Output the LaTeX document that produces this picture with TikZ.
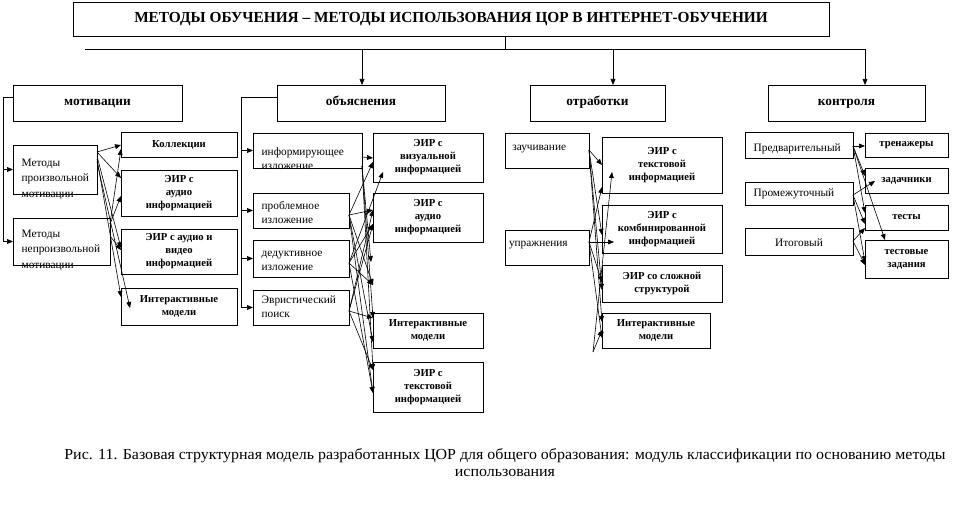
\documentclass[tikz,border=0pt]{standalone}
\usepackage{fontspec}
\setmainfont{Liberation Serif}
\newfontfamily\capfont[FakeStretch=1.04]{Liberation Serif}
\usetikzlibrary{arrows.meta,calc}
\newlength\pxu \setlength\pxu{0.75pt}
\newcommand\sm{\fontsize{8.5}{11.5}\selectfont}
\newcommand\so{\fontsize{8.5}{10.5}\selectfont}
\newcommand\bs{\fontsize{8}{9.8}\selectfont\bfseries}
\newcommand\hd{\fontsize{10}{12}\selectfont\bfseries}
\tikzset{
  box/.style={draw, line width=0.7pt, inner sep=0pt, outer sep=0pt},
  head/.style={box, minimum height=36\pxu, text height=6.5pt, text depth=2pt, font=\hd},
  ln/.style={line width=0.7pt},
  arr/.style={line width=0.45pt, -{Triangle[length=4.5pt,width=3.6pt]}},
}
% [inner pos]{name}{x}{y}{w}{h}{align}{text}
\newcommand\bx[8][t]{\node[box,minimum width=#5\pxu,minimum height=#6\pxu] (#2) at ({#3+#5/2},{#4+#6/2}) {\parbox[c][\dimexpr#6\pxu-4\pxu\relax][#1]{\dimexpr#5\pxu-8\pxu\relax}{#7#8}};}
\newcommand\nw[3]{($(#1.north west)+(#2,#3)$)}
\begin{document}
\begin{tikzpicture}[x=0.75pt,y=-0.75pt]
\useasboundingbox (0,0) rectangle (962,505);
% title and headers
\node[box,minimum width=756\pxu,minimum height=34\pxu] (title) at (451,19) {\fontsize{11.5}{13}\selectfont\bfseries МЕТОДЫ ОБУЧЕНИЯ – МЕТОДЫ ИСПОЛЬЗОВАНИЯ ЦОР В ИНТЕРНЕТ-ОБУЧЕНИИ};
\node[head,minimum width=169\pxu] (mot) at (97.5,103) {мотивации};
\node[head,minimum width=168\pxu] (ob) at (361,103) {объяснения};
\node[head,minimum width=135\pxu] (ot) at (597.5,103) {отработки};
\node[head,minimum width=157\pxu] (ko) at (846.5,103) {контроля};
\coordinate (j) at (505,49);
\coordinate (hl) at (85,49);
\coordinate (hr) at (865,49);
\coordinate (a1) at (362,49);
\coordinate (a2) at (613,49);
\draw[ln] (title.south -| j) -- (j);
\draw[ln] (hl) -- (hr);
\draw[arr] (a1) -- (a1 |- ob.north);
\draw[arr] (a2) -- (a2 |- ot.north);
\draw[arr] (hr) -- (hr |- ko.north);
% motivation
\bx{m1}{13}{145}{84}{49}{\raggedright\leftskip=3.5pt\vspace*{9pt}}{\sm Методы\\произвольной\\мотивации}
\bx{m2}{13}{218}{97}{47}{\raggedright\leftskip=3.5pt\vspace*{7.5pt}}{\sm Методы\\непроизвольной\\мотивации}
\bx[c]{k1}{121}{132}{116}{25}{\centering}{\bs Коллекции}
\bx[c]{k2}{121}{170}{116}{46}{\centering}{\bs ЭИР с\\аудио\\информацией}
\bx[c]{k3}{121}{229}{116}{45}{\centering}{\bs ЭИР с аудио и\\видео\\информацией}
\bx[c]{k4}{121}{288}{116}{37}{\centering}{\bs Интерактивные\\модели}
\draw[ln] ([yshift=4.5pt]mot.west) -- ++(-10,0) coordinate (bm);
\draw[ln] (bm) -- (bm |- m2.west);
\draw[arr] (bm |- m1.west) -- (m1.west);
\draw[arr] (bm |- m2.west) -- (m2.west);
\draw[arr] \nw{m1}{84}{7} -- \nw{k1}{0}{13};
\draw[arr] \nw{m1}{84}{7} -- \nw{k2}{0}{8};
\draw[arr] \nw{m1}{84}{11} -- \nw{k3}{0}{19};
\draw[arr] \nw{m1}{84}{14} -- \nw{k4}{0}{9};
\draw[arr] \nw{m1}{84}{17} -- \nw{k4}{9}{20};
\draw[arr] \nw{m2}{97}{6} -- \nw{k1}{0}{17};
\draw[arr] \nw{m2}{97}{6} -- \nw{k2}{0}{26};
\draw[arr] \nw{m2}{97}{18} -- \nw{k3}{0}{21};
% explanation
\bx{o1}{253}{133}{109}{35}{\raggedright\leftskip=3.5pt\vspace*{9.75pt}}{\so информирующее\\изложение}
\bx{o2}{253}{193}{96}{35}{\raggedright\leftskip=3.5pt\vspace*{4.5pt}}{\so проблемное\\изложение}
\bx{o3}{253}{240}{96}{37}{\raggedright\leftskip=3.5pt\vspace*{6.75pt}}{\so дедуктивное\\изложение}
\bx{o4}{253}{290}{96}{35}{\raggedright\leftskip=3.5pt\vspace*{3pt}}{\so Эвристический\\поиск}
\bx[c]{r1}{373}{133}{110}{49}{\centering}{\bs ЭИР с\\визуальной\\информацией}
\bx[c]{r2}{373}{193}{110}{49}{\centering}{\bs ЭИР с\\аудио\\информацией}
\bx[c]{r3}{373}{313}{110}{35}{\centering}{\bs Интерактивные\\модели}
\bx[c]{r4}{373}{362}{110}{50}{\centering}{\bs ЭИР с\\текстовой\\информацией}
\draw[ln] ([yshift=4.5pt]ob.west) -- ++(-36,0) coordinate (bo);
\draw[ln] (bo) -- (bo |- o4.west);
\foreach \n in {o1,o2,o3,o4} \draw[arr] (bo |- \n.west) -- (\n.west);
\coordinate (t5) at (371,262);
\coordinate (t6) at (373,285);
\draw[arr] \nw{o1}{109}{24} -- \nw{r1}{0}{25};
\draw[arr] \nw{o1}{109}{33} -- (t5);
\draw[arr] \nw{o1}{109}{33} -- \nw{r3}{0}{5};
\draw[arr] \nw{o1}{109}{33} -- \nw{r4}{0}{8};
\draw[arr] \nw{o2}{96}{22} -- \nw{r1}{0}{29};
\draw[arr] \nw{o2}{96}{22} -- \nw{r2}{0}{17};
\draw[arr] \nw{o2}{96}{22} -- (t6);
\draw[arr] \nw{o2}{96}{22} -- \nw{r3}{0}{29};
\draw[arr] \nw{o2}{96}{22} -- \nw{r4}{0}{31};
\draw[arr] \nw{o3}{96}{23} -- \nw{r1}{10}{39};
\draw[arr] \nw{o3}{96}{23} -- \nw{r2}{0}{31};
\draw[arr] \nw{o3}{96}{23} -- (t6);
\draw[arr] \nw{o3}{96}{23} -- \nw{r4}{0}{31};
\draw[arr] \nw{o4}{96}{21} -- \nw{r2}{0}{17};
\draw[arr] \nw{o4}{96}{21} -- \nw{r2}{0}{31};
\draw[arr] \nw{o4}{96}{21} -- \nw{r3}{0}{5};
\draw[arr] \nw{o4}{96}{21} -- \nw{r4}{0}{8};
% practice
\bx{p1}{505}{133}{84}{35}{\raggedright\leftskip=2.5pt\vspace*{7.5pt}}{\so заучивание}
\bx{p2}{505}{230}{84}{35}{\raggedright\vspace*{6.75pt}}{\so упражнения}
\bx[c]{q1}{602}{137}{120}{56}{\centering}{\bs ЭИР с\\текстовой\\информацией}
\bx[c]{q2}{602}{205}{120}{48}{\centering}{\bs ЭИР с\\комбинированной\\информацией}
\bx[c]{q3}{602}{265}{120}{37}{\centering}{\bs ЭИР со сложной\\структурой}
\bx[c]{q4}{602}{313}{108}{35}{\centering}{\bs Интерактивные\\модели}
\coordinate (bt) at (593,352);
\draw[arr] \nw{p1}{84}{17} -- \nw{q1}{0}{28};
\draw[arr] \nw{p1}{84}{17} -- \nw{q2}{0}{30};
\draw[arr] \nw{p1}{84}{17} -- \nw{q3}{0}{25};
\draw[arr] \nw{p1}{84}{17} -- \nw{q4}{0}{9};
\draw[arr] \nw{p2}{84}{12} -- \nw{q2}{12}{37};
\draw[arr] \nw{p2}{84}{12} -- \nw{q1}{0}{50};
\draw[arr] \nw{p2}{84}{12} -- \nw{q3}{0}{17};
\draw[arr] \nw{p2}{84}{12} -- \nw{q4}{0}{25};
\draw[arr] (bt) -- \nw{q1}{10}{35};
\draw[arr] (bt) -- \nw{q4}{0}{17};
% control
\bx{c1}{745}{132}{108}{26}{\raggedright\leftskip=3.5pt\vspace*{7.25pt}}{\so Предварительный}
\bx{c2}{745}{182}{108}{23}{\raggedright\leftskip=3.5pt\vspace*{3.75pt}}{\so Промежуточный}
\bx{c3}{745}{228}{108}{27}{\centering\vspace*{6.5pt}}{\so Итоговый}
\bx[c]{d1}{865}{133}{83}{24}{\centering}{\bs тренажеры}
\bx[c]{d2}{865}{168}{83}{25}{\centering}{\bs задачники}
\bx[c]{d3}{865}{205}{83}{25}{\centering}{\bs тесты}
\bx[c]{d4}{865}{240}{83}{38}{\centering}{\bs тестовые\\задания}
\draw[arr] \nw{c1}{108}{14} -- \nw{d1}{0}{13};
\draw[arr] \nw{c1}{108}{14} -- \nw{d2}{0}{8};
\draw[arr] \nw{c1}{108}{14} -- \nw{d3}{0}{8};
\draw[arr] \nw{c1}{108}{14} -- \nw{d4}{20}{0};
\draw[arr] \nw{c2}{108}{13} -- \nw{d2}{10}{13};
\draw[arr] \nw{c2}{108}{13} -- \nw{d3}{0}{19};
\draw[arr] \nw{c2}{108}{13} -- \nw{d4}{0}{22};
\draw[arr] \nw{c3}{108}{13} -- \nw{d3}{0}{23};
\draw[arr] \nw{c3}{108}{13} -- \nw{d4}{0}{25};
% caption
\node[align=center, font=\capfont\fontsize{11.5}{12.75}\selectfont] (cap) at (505,463) {Рис. 11. Базовая структурная модель разработанных ЦОР для общего образования: модуль классификации по основанию методы\\использования};
\end{tikzpicture}
\end{document}
